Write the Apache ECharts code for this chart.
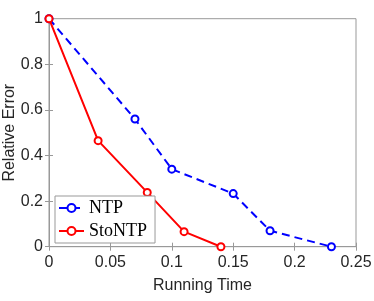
<!DOCTYPE html>
<html><head><meta charset="utf-8">
<script src="https://cdn.jsdelivr.net/npm/echarts@6/dist/echarts.min.js"></script>
<style>html,body{margin:0;padding:0;background:#fff}#c{width:374px;height:301px}</style>
</head><body><div id="c"></div>
<script>
const ntpX = [0, 0.07, 0.1, 0.15, 0.18, 0.23];
const ntpY = [1, 0.56, 0.34, 0.233, 0.07, 0];
const stoX = [0, 0.04, 0.08, 0.11, 0.14];
const stoY = [1, 0.465, 0.238, 0.066, 0];
const xTicks = ['0', '0.05', '0.1', '0.15', '0.2', '0.25'];
const yTicks = ['0', '0.2', '0.4', '0.6', '0.8', '1'];

const chart = echarts.init(document.getElementById('c'), null, {renderer: 'canvas'});
const frame = '#999999';
const lbl = {color: '#262626', fontFamily: 'Liberation Sans, Arial', fontSize: 16};
const tick = {show: true, inside: true, length: 4, lineStyle: {color: frame}};
chart.setOption({
  animation: false,
  grid: {left: 49, right: 18, top: 18.7, bottom: 54.3, show: true, borderColor: frame, borderWidth: 1,
         containLabel: false, outerBoundsMode: 'none'},
  xAxis: [
    {type: 'value', min: 0, max: 0.25, interval: 0.05, position: 'bottom',
     axisLine: {show: true, lineStyle: {color: frame}}, axisTick: tick, splitLine: {show: false},
     axisLabel: Object.assign({margin: 8, formatter: v => xTicks[Math.round(v / 0.05)]}, lbl),
     name: 'Running Time', nameLocation: 'middle', nameGap: 31, nameMoveOverlap: false,
     nameTextStyle: {color: '#262626', fontFamily: 'Liberation Sans, Arial', fontSize: 16}},
    {type: 'value', min: 0, max: 0.25, interval: 0.05, position: 'top',
     axisLine: {show: true, lineStyle: {color: frame}}, axisTick: tick, splitLine: {show: false}, axisLabel: {show: false}}
  ],
  yAxis: [
    {type: 'value', min: 0, max: 1, interval: 0.2, position: 'left',
     axisLine: {show: true, lineStyle: {color: frame}}, axisTick: tick, splitLine: {show: false},
     axisLabel: Object.assign({margin: 6, formatter: v => yTicks[Math.round(v / 0.2)]}, lbl),
     name: 'Relative Error', nameLocation: 'middle', nameGap: 31, nameMoveOverlap: false,
     nameTextStyle: {color: '#262626', fontFamily: 'Liberation Sans, Arial', fontSize: 16}},
    {type: 'value', min: 0, max: 1, interval: 0.2, position: 'right',
     axisLine: {show: true, lineStyle: {color: frame}}, axisTick: tick, splitLine: {show: false}, axisLabel: {show: false}}
  ],
  legend: {
    orient: 'vertical', left: 55, top: 196, itemWidth: 25, itemHeight: 10, itemGap: 5,
    backgroundColor: '#fff', borderColor: frame, borderWidth: 1, padding: [3, 8, 3, 3],
    textStyle: {fontFamily: 'Liberation Serif, Times New Roman, serif', fontSize: 18, color: '#000'},
    data: ['NTP', 'StoNTP']
  },
  series: [
    {name: 'NTP', type: 'line', data: ntpX.map((x, i) => [x, ntpY[i]]),
     symbol: 'emptyCircle', symbolSize: 7, color: '#0000ff',
     lineStyle: {color: '#0000ff', width: 2, type: [8, 5]},
     itemStyle: {color: '#0000ff', borderColor: '#0000ff', borderWidth: 2}, z: 2},
    {name: 'StoNTP', type: 'line', data: stoX.map((x, i) => [x, stoY[i]]),
     symbol: 'emptyCircle', symbolSize: 7, color: '#ff0000',
     lineStyle: {color: '#ff0000', width: 2},
     itemStyle: {color: '#ff0000', borderColor: '#ff0000', borderWidth: 2}, z: 3}
  ]
});
</script></body></html>
